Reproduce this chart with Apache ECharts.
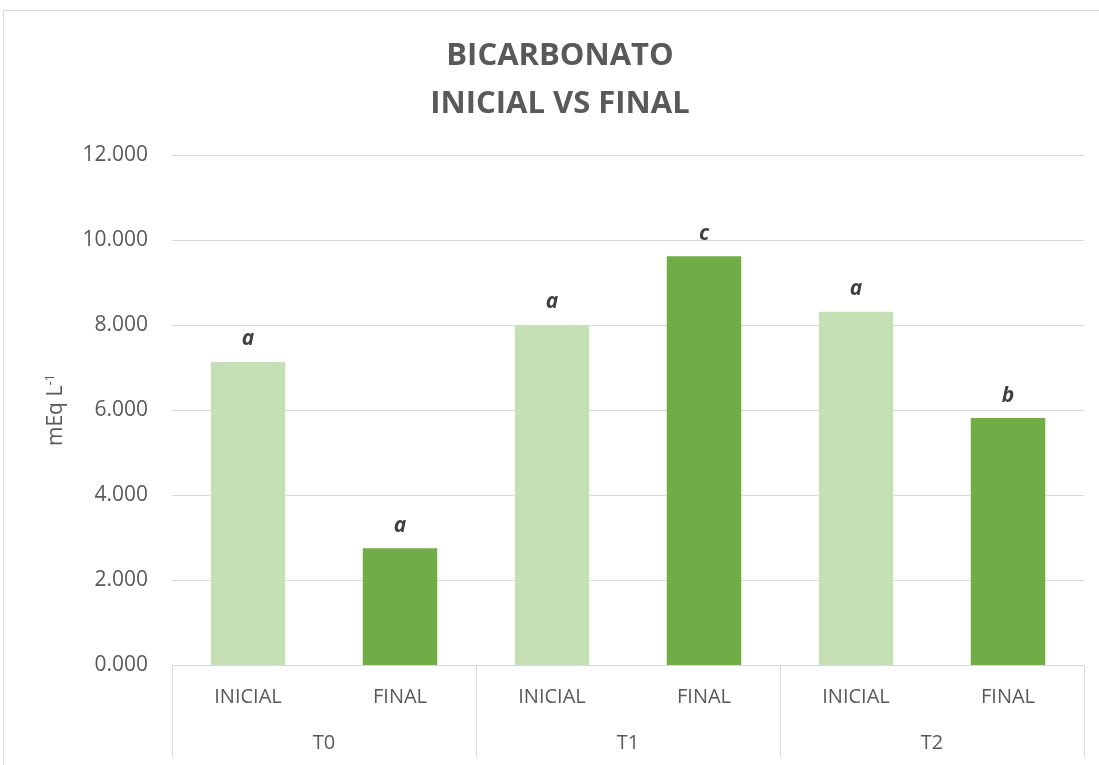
<!DOCTYPE html>
<html>
<head>
<meta charset="utf-8">
<script src="https://cdn.jsdelivr.net/npm/echarts@6/dist/echarts.min.js"></script>
<style>
  html, body { margin: 0; padding: 0; background: #fff; }
  #chart { width: 1099px; height: 765px; }
</style>
</head>
<body>
<div id="chart"></div>
<script>
// datos
const categorias = ["INICIAL", "FINAL", "INICIAL", "FINAL", "INICIAL", "FINAL"];
const tratamientos = ["T0", "T1", "T2"];
const valores = [7.13, 2.75, 8.0, 9.62, 8.31, 5.81];
const letras = ["a", "a", "a", "c", "a", "b"];
const colores = ["#C5E0B4", "#70AD47"];
const yTicks = [0, 2, 4, 6, 8, 10, 12];

const chart = echarts.init(document.getElementById("chart"));

const option = {
  animation: false,
  title: {
    text: "BICARBONATO\nINICIAL VS FINAL",
    left: 555,
    textAlign: "center",
    top: 27,
    textStyle: {
      fontFamily: "Open Sans",
      fontWeight: "bold",
      fontSize: 31,
      lineHeight: 48,
      color: "#595959",
    },
  },
  graphic: [
    {
      type: "rect",
      shape: { x: 3.5, y: 10.5, width: 1200, height: 800 },
      style: { fill: "none", stroke: "#d9d9d9", lineWidth: 1 },
      silent: true,
    },
  ],
  grid: {
    left: 172,
    right: 15,
    top: 155,
    bottom: 100,
  },
  xAxis: [
    {
      type: "category",
      data: categorias,
      position: "bottom",
      axisLine: { show: false },
      axisTick: { show: false },
      axisLabel: {
        margin: 22,
        color: "#595959",
        fontFamily: "Open Sans",
        fontSize: 20,
        interval: 0,
      },
    },
    {
      type: "category",
      data: tratamientos,
      position: "bottom",
      axisLine: { show: true, lineStyle: { color: "#d9d9d9", width: 1 } },
      axisTick: {
        show: true,
        length: 92,
        lineStyle: { color: "#d9d9d9", width: 1 },
      },
      axisLabel: {
        margin: 68,
        color: "#595959",
        fontFamily: "Open Sans",
        fontSize: 20,
      },
    },
  ],
  yAxis: {
    type: "value",
    min: yTicks[0],
    max: yTicks[yTicks.length - 1],
    interval: 2,
    name: "{a|mEq L}{b|-1}",
    nameLocation: "middle",
    nameRotate: 90,
    nameGap: 103,
    nameTextStyle: {
      rich: {
        a: { fontFamily: "Open Sans", fontSize: 21, color: "#595959" },
        b: {
          fontFamily: "Open Sans",
          fontSize: 13,
          color: "#595959",
          padding: [0, 0, 12, 0],
        },
      },
    },
    axisLine: { show: false },
    axisTick: { show: false },
    axisLabel: {
      margin: 24,
      color: "#595959",
      fontFamily: "Open Sans",
      fontSize: 21,
      formatter: (v) => v.toFixed(3),
    },
    splitLine: { lineStyle: { color: "#d9d9d9", width: 1 } },
  },
  series: [
    {
      type: "bar",
      xAxisIndex: 0,
      barWidth: "49%",
      data: valores.map((v, i) => ({
        value: v,
        itemStyle: { color: colores[i % 2] },
        label: { formatter: letras[i] },
      })),
      label: {
        show: true,
        position: "top",
        distance: 12,
        fontFamily: "Open Sans",
        fontSize: 21,
        fontWeight: "bold",
        fontStyle: "italic",
        color: "#404040",
      },
    },
  ],
};

chart.setOption(option);
</script>
</body>
</html>
